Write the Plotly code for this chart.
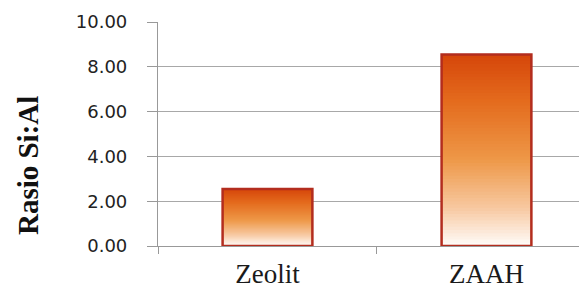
import plotly.graph_objects as go

categories = ["Zeolit", "ZAAH"]
values = [2.55, 8.55]
y_ticks = [0, 2, 4, 6, 8, 10]
y_tick_labels = ["0.00", "2.00", "4.00", "6.00", "8.00", "10.00"]
y_title = "<b>Rasio Si:Al</b>"

# gradient stops (fraction from bottom, rgb)
stops = [(0.0, (255, 252, 250)), (0.2, (247, 200, 160)), (0.45, (238, 152, 72)),
         (0.75, (228, 108, 30)), (1.0, (214, 70, 10))]

def col(t):
    for (t0, c0), (t1, c1) in zip(stops[:-1], stops[1:]):
        if t0 <= t <= t1:
            f = (t - t0) / (t1 - t0)
            return "rgb(%d,%d,%d)" % tuple(round(a + (b - a) * f) for a, b in zip(c0, c1))
    return "rgb(%d,%d,%d)" % stops[-1][1]

N = 60
BW = 0.41
fig = go.Figure()
for i in range(N):
    frac = i / N
    fig.add_trace(go.Bar(
        x=categories, y=[v * (1 - frac) for v in values], base=[v * frac for v in values],
        marker=dict(color=col((i + 0.5) / N), line=dict(width=0)), width=BW,
        hoverinfo="skip", showlegend=False))
fig.add_trace(go.Bar(
    x=categories, y=values, width=BW, showlegend=False,
    marker=dict(color="rgba(0,0,0,0)", line=dict(color="#b32d1e", width=2.5))))

fig.add_annotation(text=y_title, textangle=-90, xref="paper", yref="paper",
                   x=-0.303, y=0.357, xanchor="center", yanchor="middle", showarrow=False,
                   font=dict(family="Liberation Serif", size=29, color="#111"))

fig.update_layout(
    width=579, height=280, barmode="overlay",
    margin=dict(l=150, r=0, t=14, b=42),
    plot_bgcolor="white", paper_bgcolor="white",
    xaxis=dict(range=[-0.5, 1.459], type="category", tickson="boundaries",
               ticks="outside", ticklen=7, tickcolor="#999", showline=True,
               linecolor="#999", linewidth=1.2, showgrid=False, automargin=False,
               ticklabelstandoff=3,
               tickfont=dict(family="Liberation Serif", size=27, color="#1a1a1a")),
    yaxis=dict(range=[0, 10], tickvals=y_ticks, ticktext=y_tick_labels,
               ticks="outside", ticklen=10, tickcolor="#999", showline=True,
               linecolor="#999", linewidth=1.2, showgrid=True, gridcolor="#a8a8a8",
               gridwidth=1.2, zeroline=False, ticklabelstandoff=16, automargin=False,
               tickfont=dict(family="DejaVu Sans", size=18, color="#222")),
)
fig.write_html("out.html")
